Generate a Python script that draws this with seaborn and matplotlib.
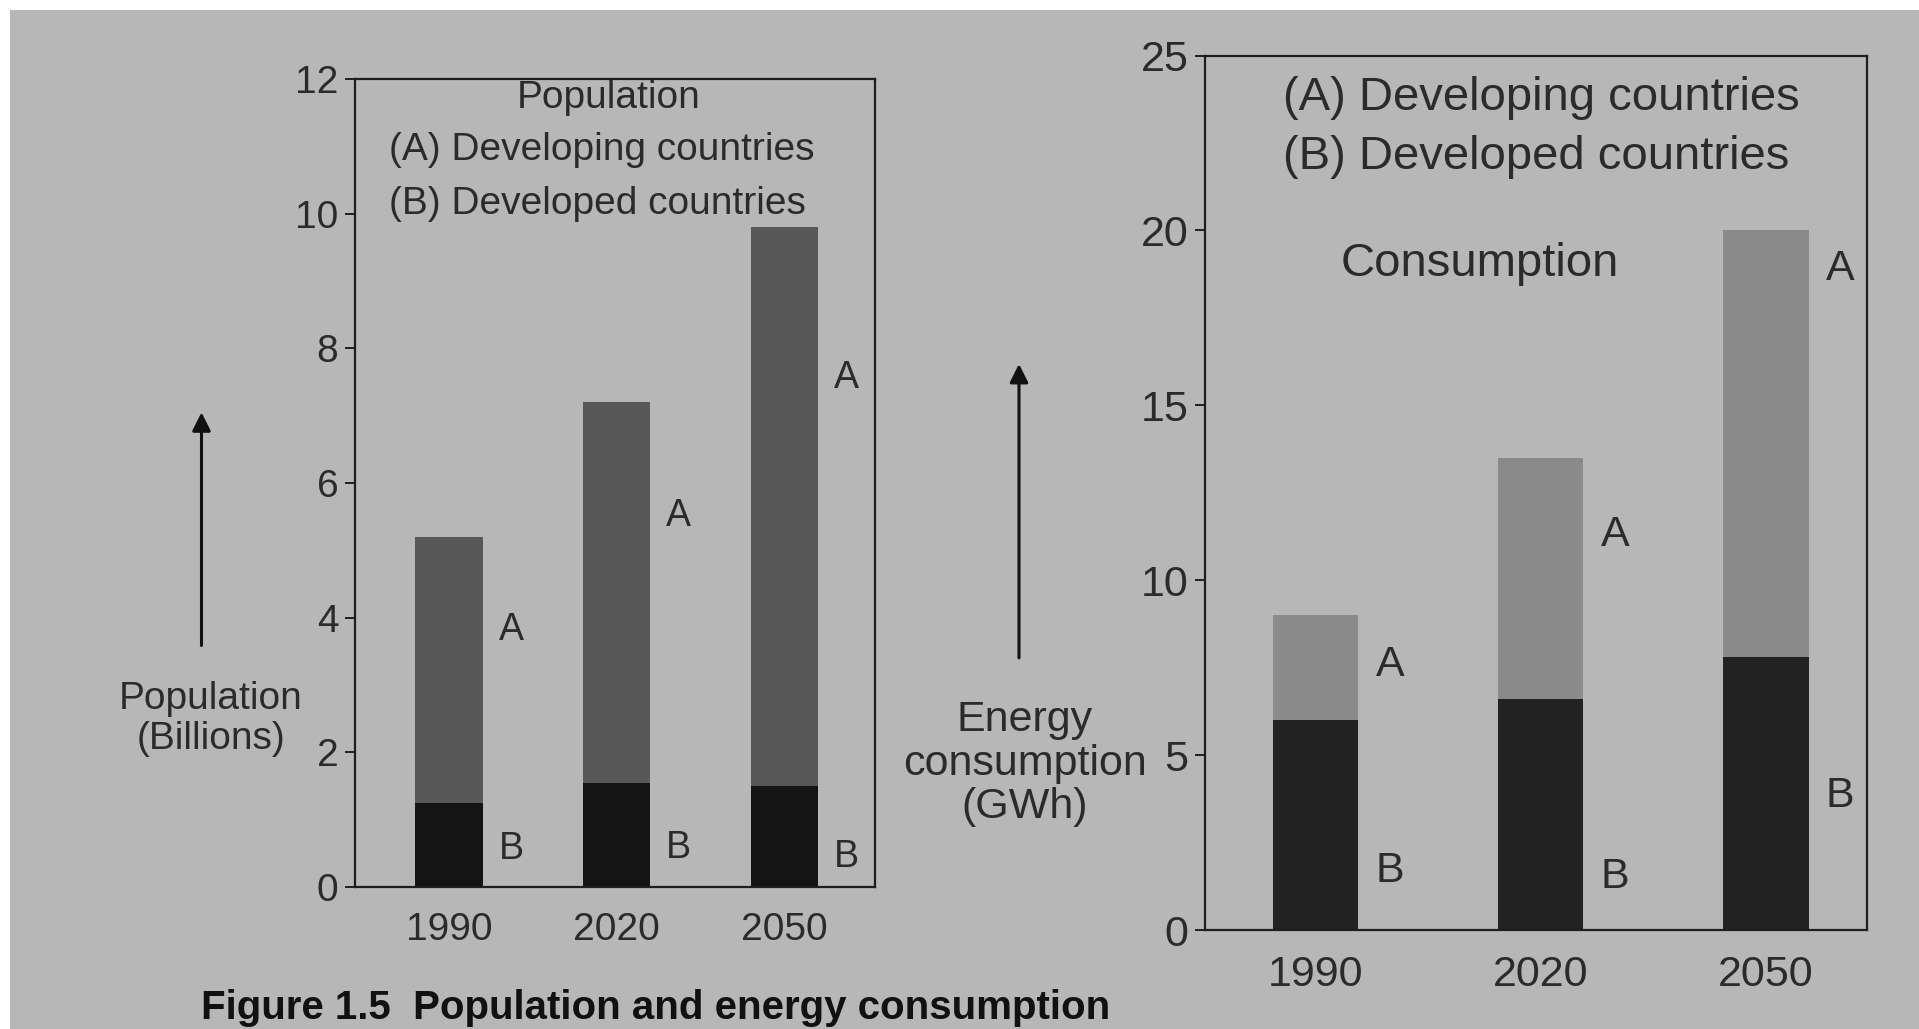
import pandas as pd
import matplotlib.pyplot as plt
import seaborn as sns
from matplotlib.patches import Rectangle, FancyArrowPatch

# dados
anos = ["1990", "2020", "2050"]
pop_desenvolvidos = [1.25, 1.55, 1.5]      # (B) billions
pop_em_desenvolvimento = [3.95, 5.65, 8.3]  # (A) billions
energia_desenvolvidos = [6.0, 6.6, 7.8]      # (B) GWh
energia_em_desenvolvimento = [3.0, 6.9, 12.2]  # (A) GWh

df_pop = pd.DataFrame({"ano": anos, "B": pop_desenvolvidos, "A": pop_em_desenvolvimento})
df_pop["total"] = df_pop["A"] + df_pop["B"]
df_en = pd.DataFrame({"ano": anos, "B": energia_desenvolvidos, "A": energia_em_desenvolvimento})
df_en["total"] = df_en["A"] + df_en["B"]

sns.set_theme(style="white")
plt.rcParams["font.family"] = ["Liberation Sans", "DejaVu Sans"]

fundo = "#b7b7b7"
texto = "#2b2b2b"

fig = plt.figure(figsize=(19.19, 10.29), dpi=100, facecolor="white")
fig.patches.append(Rectangle((0.005, 0), 0.995, 0.99, transform=fig.transFigure,
                             facecolor=fundo, edgecolor="none", zorder=-10))

ax1 = fig.add_axes([0.185, 0.138, 0.271, 0.785])
ax2 = fig.add_axes([0.628, 0.096, 0.345, 0.850])


def painel(ax, df, cor_a, cor_b, largura, ymax, passo, frac_a, frac_b, dx, fs, fs_lbl):
    ax.set_facecolor(fundo)
    sns.barplot(data=df, x="ano", y="total", color=cor_a, width=largura,
                saturation=1, edgecolor="none", ax=ax)
    sns.barplot(data=df, x="ano", y="B", color=cor_b, width=largura,
                saturation=1, edgecolor="none", ax=ax)
    for i, row in df.iterrows():
        x = i + dx
        ax.text(x, row["B"] + frac_a[i] * row["A"], "A", fontsize=fs_lbl,
                color=texto, ha="center", va="center")
        ax.text(x, frac_b[i] * row["B"], "B", fontsize=fs_lbl,
                color=texto, ha="center", va="center")
    ax.set_ylim(0, ymax)
    ax.set_yticks(range(0, ymax + 1, passo))
    ax.set_xlabel("")
    ax.set_ylabel("")
    for s in ax.spines.values():
        s.set_color("#1e1e1e")
        s.set_linewidth(1.6)
    ax.tick_params(axis="y", left=True, length=7, width=1.4, color="#1e1e1e",
                   labelsize=fs, labelcolor=texto, pad=5)
    ax.tick_params(axis="x", bottom=False, labelsize=fs, labelcolor=texto, pad=12)


painel(ax1, df_pop, "#585858", "#141414", 0.4, 12, 2,
       [0.65, 0.7, 0.73], [0.45, 0.37, 0.3], 0.37, 28, 27)
ax1.set_xlim(-0.56, 2.54)

painel(ax2, df_en, "#8a8a8a", "#222222", 0.38, 25, 5,
       [0.53, 0.68, 0.91], [0.28, 0.23, 0.49], 0.33, 31, 31)
ax2.set_xlim(-0.49, 2.45)

# textos internos
ax1.text(0.487, 0.977, "Population", transform=ax1.transAxes, fontsize=28,
         color=texto, ha="center", va="center")
ax1.text(0.066, 0.912, "(A) Developing countries", transform=ax1.transAxes,
         fontsize=28, color=texto, ha="left", va="center")
ax1.text(0.066, 0.846, "(B) Developed countries", transform=ax1.transAxes,
         fontsize=28, color=texto, ha="left", va="center")

ax2.text(0.117, 0.951, "(A) Developing countries", transform=ax2.transAxes,
         fontsize=34, color=texto, ha="left", va="center")
ax2.text(0.117, 0.884, "(B) Developed countries", transform=ax2.transAxes,
         fontsize=34, color=texto, ha="left", va="center")
ax2.text(0.204, 0.762, "Consumption", transform=ax2.transAxes,
         fontsize=34, color=texto, ha="left", va="center")

# rótulos dos eixos com setas
fig.text(0.110, 0.301, "Population\n(Billions)", fontsize=28, color=texto,
         ha="center", va="center", linespacing=1.15)
fig.add_artist(FancyArrowPatch((0.105, 0.370), (0.105, 0.602), transform=fig.transFigure,
                               arrowstyle="-|>", mutation_scale=28, lw=2.2, color="#111111"))
fig.text(0.534, 0.258, "Energy\nconsumption\n(GWh)", fontsize=31, color=texto,
         ha="center", va="center", linespacing=1.1)
fig.add_artist(FancyArrowPatch((0.531, 0.358), (0.531, 0.649), transform=fig.transFigure,
                               arrowstyle="-|>", mutation_scale=28, lw=2.2, color="#111111"))

fig.text(0.105, 0.002, "Figure 1.5  Population and energy consumption",
         fontsize=29, fontweight="bold", color="#111111", ha="left", va="bottom")

plt.savefig("out.png", dpi=100, facecolor=fig.get_facecolor())
